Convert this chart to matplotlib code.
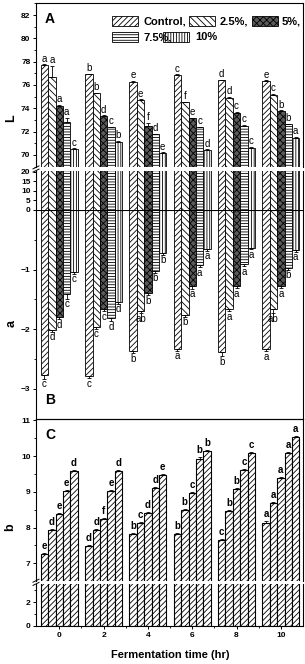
import numpy as np
import matplotlib
matplotlib.use('Agg')
import matplotlib.pyplot as plt
from matplotlib.patches import Rectangle
from matplotlib.lines import Line2D
from matplotlib.ticker import MultipleLocator, FixedLocator

plt.rcParams['font.family'] = ['Liberation Sans', 'DejaVu Sans']
plt.rcParams['hatch.linewidth'] = 0.6

#   DADOS
tempo = [0, 2, 4, 6, 8, 10]
tratamentos = ['Control,', '2.5%,', '5%,', '7.5%,', '10%']

#   L (painel A)
L_control = [77.72, 76.92, 76.29, 76.86, 76.40, 76.35]
L_25 = [76.66, 75.29, 74.72, 74.52, 74.92, 75.15]
L_5 = [74.23, 73.35, 72.49, 73.15, 73.63, 73.78]
L_75 = [72.81, 72.35, 71.78, 72.35, 72.49, 72.63]
L_10 = [70.52, 71.14, 70.16, 70.43, 70.63, 71.49]
L_err_control = [0.05, 0.05, 0.05, 0.05, 0.05, 0.05]
L_err_25 = [1.00, 0.05, 0.05, 0.05, 0.05, 0.10]
L_err_5 = [0.05, 0.05, 0.25, 0.05, 0.05, 0.05]
L_err_75 = [0.35, 0.05, 0.05, 0.05, 0.10, 0.05]
L_err_10 = [0.05, 0.05, 0.05, 0.05, 0.05, 0.05]
L_letras_control = ['a', 'b', 'e', 'c', 'd', 'e']
L_letras_25 = ['a', 'b', 'e', 'f', 'd', 'c']
L_letras_5 = ['a', 'd', 'f', 'e', 'c', 'b']
L_letras_75 = ['a', 'c', 'd', 'c', 'c', 'b']
L_letras_10 = ['c', 'b', 'e', 'd', 'c', 'a']

#   a (painel B)
a_control = [-2.77, -2.79, -2.37, -2.33, -2.39, -2.34]
a_25 = [-2.01, -1.96, -1.70, -1.76, -1.67, -1.67]
a_5 = [-1.80, -1.67, -1.40, -1.28, -1.28, -1.28]
a_75 = [-1.41, -1.81, -1.02, -0.93, -0.91, -0.97]
a_10 = [-1.04, -1.54, -0.72, -0.65, -0.63, -0.67]
a_err_control = [0.06, 0.03, 0.03, 0.03, 0.06, 0.03]
a_err_25 = [0.03, 0.03, 0.03, 0.03, 0.03, 0.06]
a_err_5 = [0.03, 0.03, 0.03, 0.04, 0.03, 0.03]
a_err_75 = [0.08, 0.06, 0.03, 0.03, 0.03, 0.03]
a_err_10 = [0.03, 0.03, 0.03, 0.03, 0.03, 0.03]
a_letras_control = ['c', 'c', 'b', 'a', 'b', 'a']
a_letras_25 = ['d', 'c', 'ab', 'b', 'a', 'ab']
a_letras_5 = ['d', 'c', 'b', 'a', 'a', 'a']
a_letras_75 = ['c', 'd', 'b', 'a', 'a', 'b']
a_letras_10 = ['c', 'd', 'b', 'a', 'a', 'a']

#   b (painel C)
b_control = [7.27, 7.48, 7.81, 7.81, 7.65, 8.14]
b_25 = [7.93, 7.94, 8.12, 8.49, 8.47, 8.69]
b_5 = [8.37, 8.23, 8.41, 8.97, 9.07, 9.39]
b_75 = [9.03, 9.03, 9.11, 9.93, 9.61, 10.09]
b_10 = [9.58, 9.58, 9.47, 10.15, 10.09, 10.54]
b_err = [0.03, 0.03, 0.03, 0.03, 0.03, 0.03]
b_letras_control = ['e', 'd', 'b', 'b', 'c', 'a']
b_letras_25 = ['d', 'd', 'c', 'b', 'b', 'a']
b_letras_5 = ['e', 'f', 'd', 'c', 'b', 'a']
b_letras_75 = ['e', 'e', 'd', 'b', 'c', 'a']
b_letras_10 = ['d', 'd', 'e', 'b', 'c', 'a']

L_series = [L_control, L_25, L_5, L_75, L_10]
L_erros = [L_err_control, L_err_25, L_err_5, L_err_75, L_err_10]
L_letras = [L_letras_control, L_letras_25, L_letras_5, L_letras_75, L_letras_10]
a_series = [a_control, a_25, a_5, a_75, a_10]
a_erros = [a_err_control, a_err_25, a_err_5, a_err_75, a_err_10]
a_letras = [a_letras_control, a_letras_25, a_letras_5, a_letras_75, a_letras_10]
b_series = [b_control, b_25, b_5, b_75, b_10]
b_letras = [b_letras_control, b_letras_25, b_letras_5, b_letras_75, b_letras_10]

#   ESTILOS
hachuras = ['//////', '\\\\\\\\\\', 'xxxxx', '------', '||||||']
cores = ['white', 'white', '#5a5a5a', 'white', 'white']
largura = 1 / 3
x = np.array(tempo, dtype=float)

W, H = 305, 664
fig = plt.figure(figsize=(W / 100, H / 100), dpi=100)


def caixa(y_topo, y_base):
    # eixos em pixels -> fração da figura
    return fig.add_axes([36 / W, 1 - y_base / H, 267 / W, (y_base - y_topo) / H])


ax_L = caixa(3, 167)
ax_mid = caixa(171, 210)
ax_a = caixa(210, 418.5)
ax_Cu = caixa(418.5, 580.5)
ax_Cl = caixa(584, 626)

for ax in [ax_L, ax_mid, ax_a, ax_Cu, ax_Cl]:
    ax.set_xlim(-1.05, 11.0)
    ax.tick_params(axis='both', direction='out', labelsize=6, width=0.7, length=2.5, pad=1.5)
    ax.tick_params(which='minor', direction='out', width=0.6, length=1.5)
    for s in ax.spines.values():
        s.set_linewidth(0.8)
    ax.set_facecolor('none')

#   PAINEL A / B
for i in range(5):
    xi = x + (i - 2) * largura
    for ax in [ax_L, ax_mid]:
        ax.bar(xi, L_series[i], width=largura, color=cores[i], edgecolor='k',
               hatch=hachuras[i], linewidth=0.6)
    ax_L.errorbar(xi, L_series[i], yerr=[np.zeros(6), L_erros[i]], fmt='none',
                  ecolor='k', elinewidth=0.6, capsize=1.5, capthick=0.6)
    ax_a.bar(xi, a_series[i], width=largura, color=cores[i], edgecolor='k',
             hatch=hachuras[i], linewidth=0.6)
    ax_a.errorbar(xi, a_series[i], yerr=[a_erros[i], np.zeros(6)], fmt='none',
                  ecolor='k', elinewidth=0.6, capsize=1.5, capthick=0.6)
    for j in range(6):
        ax_L.annotate(L_letras[i][j], (xi[j], L_series[i][j] + L_erros[i][j]),
                      xytext=(0, 0.5), textcoords='offset points',
                      ha='center', va='bottom', fontsize=7)
        ax_a.annotate(a_letras[i][j], (xi[j], a_series[i][j] - a_erros[i][j]),
                      xytext=(0, -0.5), textcoords='offset points',
                      ha='center', va='top', fontsize=7)

ax_L.set_ylim(68.96, 83.03)
ax_L.set_yticks([70, 72, 74, 76, 78, 80, 82])
ax_L.yaxis.set_minor_locator(MultipleLocator(1))
ax_L.spines['bottom'].set_visible(False)

ax_mid.set_ylim(0, 20.37)
ax_mid.set_yticks([0, 5, 10, 15, 20])
ax_mid.spines['top'].set_visible(False)
ax_mid.spines['bottom'].set_visible(False)

ax_a.set_ylim(-3.50, 0)
ax_a.set_yticks([-1, -2, -3])
ax_a.yaxis.set_minor_locator(FixedLocator([-0.5, -1.5, -2.5]))
ax_a.spines['top'].set_visible(False)
ax_a.axhline(0, color='k', linewidth=0.8)

#   PAINEL C
for i in range(5):
    xi = x + (i - 2) * largura
    for ax in [ax_Cu, ax_Cl]:
        ax.bar(xi, b_series[i], width=largura, color='white', edgecolor='k',
               hatch='//////', linewidth=0.8)
    ax_Cu.errorbar(xi, b_series[i], yerr=[np.zeros(6), b_err], fmt='none',
                   ecolor='k', elinewidth=0.6, capsize=1.5, capthick=0.6)
    for j in range(6):
        ax_Cu.annotate(b_letras[i][j], (xi[j], b_series[i][j] + b_err[j]),
                       xytext=(0, 1.5), textcoords='offset points',
                       ha='center', va='bottom', fontsize=7, fontweight='bold')

ax_Cu.set_ylim(6.52, 11.05)
ax_Cu.set_yticks([7, 8, 9, 10, 11])
ax_Cu.yaxis.set_minor_locator(MultipleLocator(0.5))
ax_Cu.spines['bottom'].set_visible(False)

ax_Cl.set_ylim(0, 3.54)
ax_Cl.set_yticks([0, 2])
ax_Cl.yaxis.set_minor_locator(FixedLocator([1, 3]))
ax_Cl.spines['top'].set_visible(False)

for ax in [ax_L, ax_mid, ax_a, ax_Cu]:
    ax.set_xticks([])
ax_Cl.set_xticks(tempo)
ax_Cl.xaxis.set_minor_locator(FixedLocator([1, 3, 5, 7, 9]))
for ax in [ax_L, ax_mid, ax_a, ax_Cu, ax_Cl]:
    for lab in ax.get_yticklabels() + ax.get_xticklabels():
        lab.set_fontweight('bold')

#   QUEBRAS DO EIXO
for yq in [169, 582.3]:
    for dy in [-1.6, 1.6]:
        fig.add_artist(Line2D([33 / W, 39 / W], [1 - (yq + dy + 1.5) / H, 1 - (yq + dy - 1.5) / H],
                              color='k', linewidth=0.7))

#   LEGENDA
legenda = [(112, 16, 143), (189, 16, 220), (252, 16, 282), (112, 32, 143), (163, 32, 195)]
for i, (px, py, tx) in enumerate(legenda):
    fig.add_artist(Rectangle((px / W, 1 - (py + 10) / H), 26 / W, 10 / H,
                             transform=fig.transFigure, facecolor=cores[i], edgecolor='k',
                             hatch=hachuras[i], linewidth=0.6))
    fig.text(tx / W, 1 - (py + 5) / H, tratamentos[i], ha='left', va='center',
             fontsize=8, fontweight='bold')

#   TEXTOS
fig.text(50 / W, 1 - 19 / H, 'A', ha='center', va='center', fontsize=10, fontweight='bold')
fig.text(50 / W, 1 - 400 / H, 'B', ha='center', va='center', fontsize=10, fontweight='bold')
fig.text(50 / W, 1 - 435 / H, 'C', ha='center', va='center', fontsize=10, fontweight='bold')
fig.text(11 / W, 1 - 118 / H, 'L', ha='center', va='center', rotation=90, fontsize=9, fontweight='bold')
fig.text(12 / W, 1 - 323 / H, 'a', ha='center', va='center', rotation=90, fontsize=9, fontweight='bold')
fig.text(10 / W, 1 - 527 / H, 'b', ha='center', va='center', rotation=90, fontsize=9, fontweight='bold')
fig.text(170.5 / W, 1 - 655 / H, 'Fermentation time (hr)', ha='center', va='center',
         fontsize=8, fontweight='bold')

fig.savefig('out.png', dpi=100)
